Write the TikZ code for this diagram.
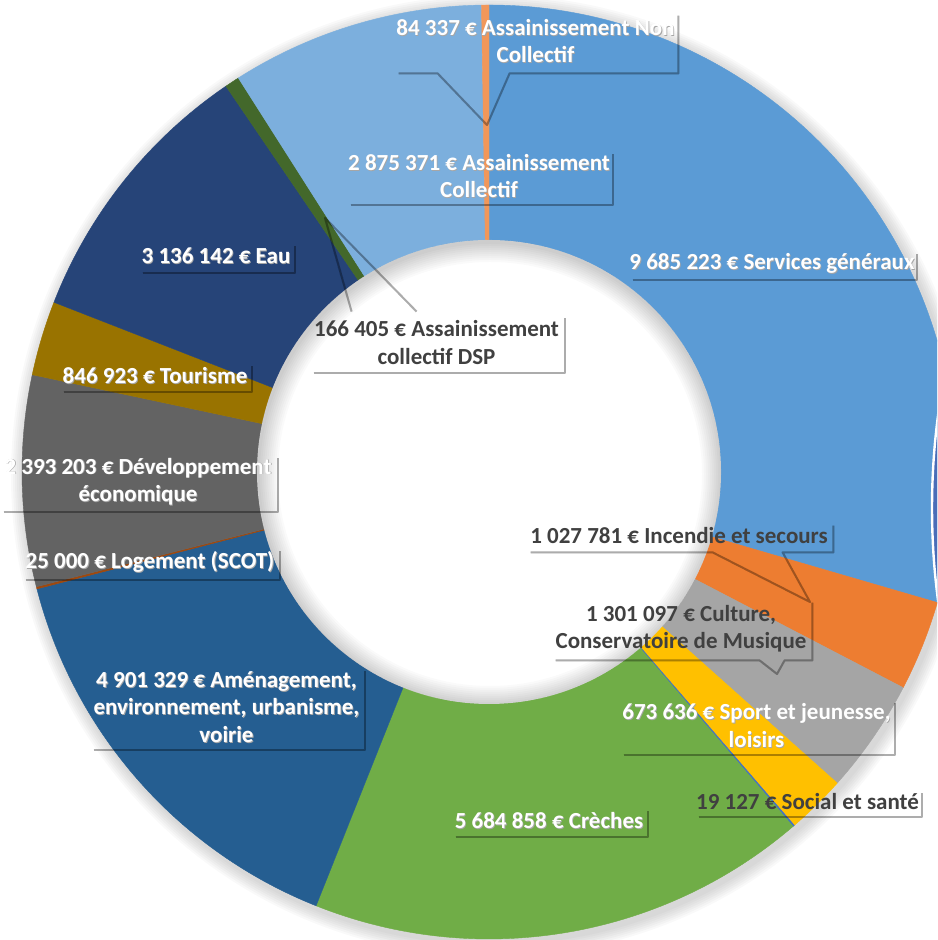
\documentclass[tikz,border=0pt]{standalone}
\usepackage{fontspec}
\setmainfont{Carlito}
\usetikzlibrary{calc}
\definecolor{cSG}{HTML}{5B9BD5}
\definecolor{cInc}{HTML}{ED7D31}
\definecolor{cCul}{HTML}{A5A5A5}
\definecolor{cSpo}{HTML}{FFC000}
\definecolor{cSoc}{HTML}{4472C4}
\definecolor{cCre}{HTML}{70AD47}
\definecolor{cAme}{HTML}{255E91}
\definecolor{cLog}{HTML}{9E480E}
\definecolor{cDev}{HTML}{636363}
\definecolor{cTou}{HTML}{997300}
\definecolor{cEau}{HTML}{264478}
\definecolor{cDSP}{HTML}{43682B}
\definecolor{cAC}{HTML}{7CAFDD}
\definecolor{cANC}{HTML}{F1975A}
\definecolor{cArt}{HTML}{4A6DB8}
\definecolor{txtdark}{HTML}{404040}
\newcommand\donutslice[3]{\fill[#1, draw=#1, line width=0.2pt] (C) -- ++(#2:467) arc[start angle=#2, end angle=#3, radius=467] -- cycle;}
\newcommand\ts[1]{\leavevmode\rlap{\kern0.4pt\raisebox{-0.45pt}{\textcolor{black!35}{#1}}}#1}
\tikzset{
  lab/.style={inner sep=0pt, align=center, text=white},
  labd/.style={inner sep=0pt, align=center, text=txtdark},
  shk/.style={draw=black, draw opacity=0.075, line width=1pt, line join=round}
}
\newcommand\boxshadow[1]{%
  \foreach \k in {1,...,5} \draw[shk, shift={({1.1*\k},{-1.1*\k})}] ($(#1.south west)+(6,0)$) -- (#1.south east) -- ($(#1.north east)+(0,-6)$);}
\begin{document}
\begin{tikzpicture}[x=0.5pt, y=0.5pt, font=\fontsize{11.5}{13.75}\selectfont\bfseries]
\useasboundingbox (0,0) rectangle (937,940);
\clip (0,0) rectangle (937,940);
\coordinate (C) at (489,468);
% soft outer shadow of the ring
\foreach \i in {1,...,7} \fill[black, opacity=0.022] ($(C)+(3,-4)$) circle[radius=467+\i*2];
% slices, clockwise from the top
\donutslice{cSG}{90}{-16.235}
\donutslice{cInc}{-16.235}{-27.508}
\donutslice{cCul}{-27.508}{-41.780}
\donutslice{cSpo}{-41.780}{-49.169}
\donutslice{cSoc}{-49.169}{-49.379}
\donutslice{cCre}{-49.379}{-111.735}
\donutslice{cAme}{-111.735}{-165.497}
\donutslice{cLog}{-165.497}{-165.771}
\donutslice{cDev}{-165.771}{-192.022}
\donutslice{cTou}{-192.022}{-201.311}
\donutslice{cEau}{-201.311}{-235.711}
\donutslice{cDSP}{-235.711}{-237.536}
\donutslice{cAC}{-237.536}{-269.075}
\donutslice{cANC}{-269.075}{-270}
% hole with inner shadow
\fill[white] (C) circle[radius=232];
\begin{scope}
  \clip (C) circle[radius=232];
  \foreach \i in {1,...,10} \fill[black, opacity=0.02, even odd rule] (C) circle[radius=240] ($(C)+(1,-2)$) circle[radius=232-\i*2];
\end{scope}
% edge of a neighbouring shape at the right border
\filldraw[fill=cArt, draw=white, line width=1.2pt] (1638,432) circle[radius=706];
% pointer tips
\coordinate (tANC) at (487,815);
\coordinate (tCul) at (777,266);
\coordinate (tInc) at (810,338);
\coordinate (tDSP) at (325,722);
% labels
\node[lab, minimum width=142.5pt, minimum height=31.5pt] (lANC) at (535.5,898.5) {\ts{84 337 € Assainissement Non}\\\ts{Collectif}};
\node[lab, minimum width=134pt, minimum height=28.5pt] (lAC) at (479,763.5) {\ts{2 875 371 € Assainissement}\\\ts{Collectif}};
\node[lab, minimum width=145pt, minimum height=16pt] (lSG) at (772,676) {\ts{9 685 223 € Services généraux}};
\node[lab, minimum width=79pt, minimum height=16.5pt] (lEau) at (216,683.5) {\ts{3 136 142 € Eau}};
\node[lab, minimum width=97pt, minimum height=16pt] (lTou) at (155,564) {\ts{846 923 € Tourisme}};
\node[lab, minimum width=140pt, minimum height=30pt] (lDev) at (138,458) {\ts{2 393 203 € Développement}\\\ts{économique}};
\node[lab, minimum width=130pt, minimum height=17.5pt] (lLog) at (150,377.5) {\ts{25 000 € Logement (SCOT)}};
\node[lab, minimum width=138.5pt, minimum height=42.5pt] (lAme) at (226.5,232.5) {\ts{4 901 329 € Aménagement,}\\\ts{environnement, urbanisme,}\\\ts{voirie}};
\node[lab, minimum width=99pt, minimum height=16pt] (lCre) at (549,119) {\ts{5 684 858 € Crèches}};
\node[labd, minimum width=114.5pt, minimum height=15pt] (lSoc) at (807.5,138) {19 127 € Social et santé};
\node[lab, minimum width=138.5pt, minimum height=29pt] (lSpo) at (756.5,214) {\ts{673 636 € Sport et jeunesse,}\\\ts{loisirs}};
\node[labd, minimum width=131pt, minimum height=31.5pt] (lCul) at (681,311.5) {1 301 097 € Culture,\\Conservatoire de Musique};
\node[labd, minimum width=154pt, minimum height=16pt] (lInc) at (679,404) {1 027 781 € Incendie et secours};
\node[labd, minimum width=128.5pt, minimum height=30.5pt] (lDSP) at (436.5,597.5) {166 405 € Assainissement\\collectif DSP};
% shadows of the plain boxes
\boxshadow{lAC}
\boxshadow{lSG}
\boxshadow{lEau}
\boxshadow{lTou}
\boxshadow{lDev}
\boxshadow{lLog}
\boxshadow{lAme}
\boxshadow{lCre}
\boxshadow{lSoc}
\boxshadow{lSpo}
\boxshadow{lDSP}
% callouts with pointers
\foreach \k in {1,...,5} {
  \begin{scope}[shift={({1.1*\k},{-1.1*\k})}]
  \draw[shk] ($(lANC.south west)+(6,0)$) -- ($(lANC.south west)+(45,0)$) -- (tANC) -- ($(lANC.south west)+(117,0)$) -- (lANC.south east) -- ($(lANC.north east)+(0,-6)$);
  \draw[shk] ($(lCul.south west)+(6,0)$) -- ($(lCul.south west)+(210,0)$) -- (tCul) -- ($(lCul.south west)+(235,0)$) -- (lCul.south east) -- ($(lCul.north east)+(0,-6)$);
  \draw[shk] ($(lInc.south west)+(6,0)$) -- ($(lInc.south west)+(188,0)$) -- (tInc) -- ($(lInc.south west)+(258,0)$) -- (lInc.south east) -- ($(lInc.north east)+(0,-6)$);
  \draw[shk] ($(lDSP.north west)+(44,0)$) -- (tDSP) -- ($(lDSP.north west)+(109,0)$);
  \end{scope}
}
\end{tikzpicture}
\end{document}
